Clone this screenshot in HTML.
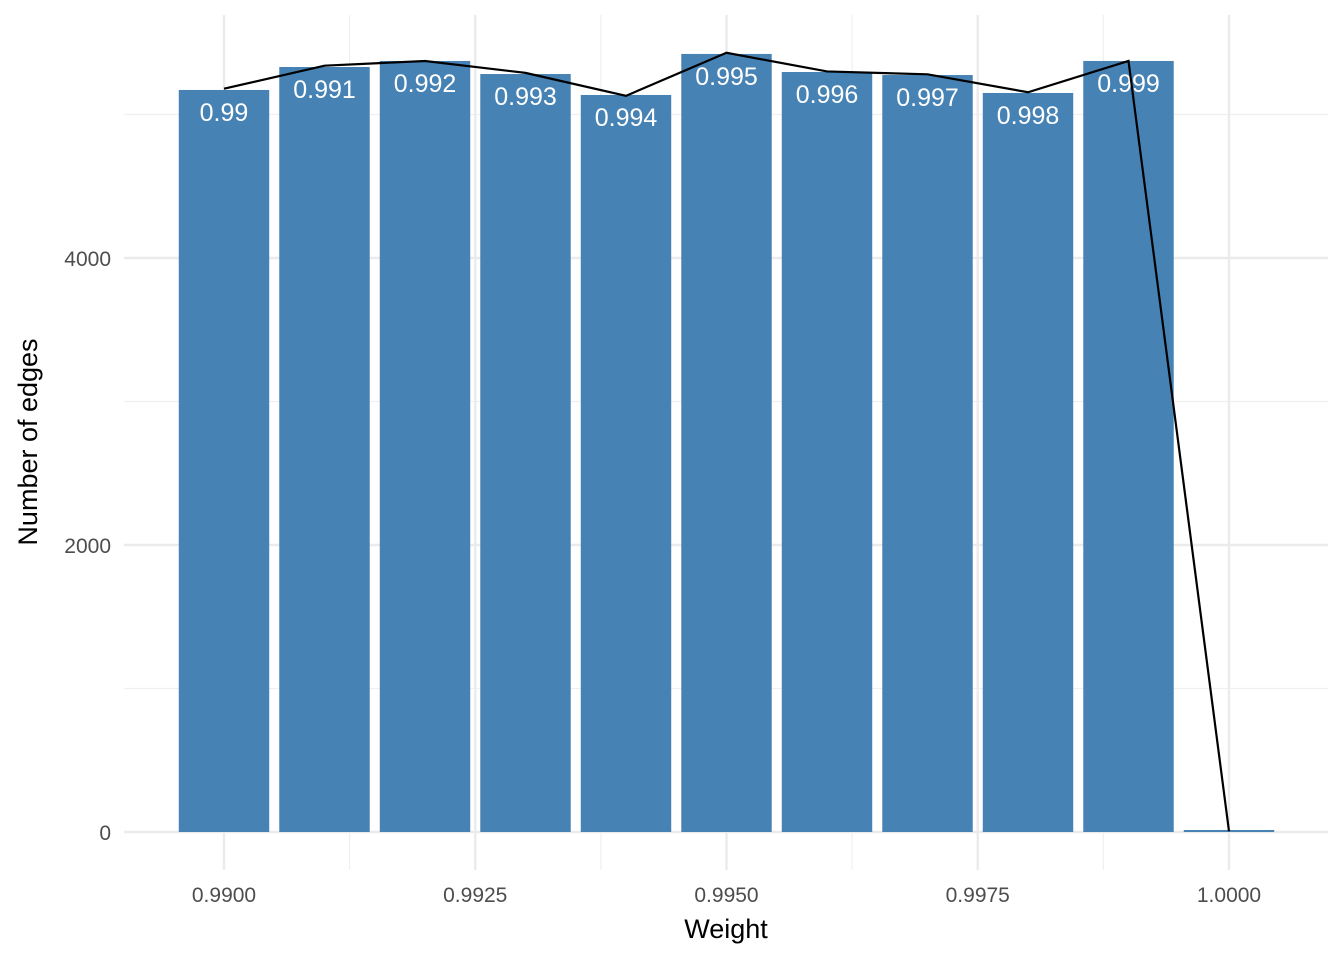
<!DOCTYPE html>
<html><head><meta charset="utf-8"><style>
body{margin:0;background:#fff}
svg{display:block;font-family:"Liberation Sans","DejaVu Sans",sans-serif}
</style></head><body>
<svg id="chart" width="1344" height="960">
<g id="grid"></g>
<g id="bars"></g>
<g id="labels"></g>
<path id="line" fill="none" stroke="#000" stroke-width="2.2"></path>
<g id="axes"></g>
<text x="726" y="938" text-anchor="middle" font-size="27" fill="#000">Weight</text>
<text transform="translate(37,442) rotate(-90)" text-anchor="middle" font-size="27" fill="#000">Number of edges</text>
</svg>
<script>
const categories=[0.990,0.991,0.992,0.993,0.994,0.995,0.996,0.997,0.998,0.999,1.000];
const barLabels=["0.99","0.991","0.992","0.993","0.994","0.995","0.996","0.997","0.998","0.999",""];
const barValues=[5171,5331,5373,5282,5136,5422,5296,5275,5150,5373,14];
const lineValues=[5180,5340,5373,5290,5130,5430,5300,5280,5155,5373,5];
const xTicks=[0.99,0.9925,0.995,0.9975,1.0];
const xTickLabels=["0.9900","0.9925","0.9950","0.9975","1.0000"];
const xMinor=[0.99125,0.99375,0.99625,0.99875];
const yTicks=[0,2000,4000];
const yMinor=[1000,3000,5000];
const NS="http://www.w3.org/2000/svg";
const X=v=>224+(v-0.99)*100500;
const Y=v=>832-v*0.1435;
function mk(tag,attrs,parent,text){const e=document.createElementNS(NS,tag);for(const k in attrs)e.setAttribute(k,attrs[k]);if(text!==undefined)e.textContent=text;parent.appendChild(e);return e;}
const grid=document.getElementById('grid'),bars=document.getElementById('bars'),labels=document.getElementById('labels'),axes=document.getElementById('axes');
yMinor.forEach(v=>{const l=mk('line',{x1:124,x2:1328,y1:Y(v),y2:Y(v),stroke:'#f0f0f0','stroke-width':1.2},grid);

});
xMinor.forEach(v=>{const l=mk('line',{x1:X(v),x2:X(v),y1:15,y2:870,stroke:'#f0f0f0','stroke-width':1.2},grid);

});
yTicks.forEach(v=>{const l=mk('line',{x1:124,x2:1328,y1:Y(v),y2:Y(v),stroke:'#ebebeb','stroke-width':2.4},grid);


const t=mk('text',{x:111,y:Y(v)+8,'text-anchor':'end','font-size':21,fill:'#4d4d4d'},axes,String(v));

});
xTicks.forEach((v,i)=>{const l=mk('line',{x1:X(v),x2:X(v),y1:15,y2:870,stroke:'#ebebeb','stroke-width':2.4},grid);


const t=mk('text',{x:X(v),y:902,'text-anchor':'middle','font-size':21,fill:'#4d4d4d'},axes,xTickLabels[i]);

});
const bw=0.0009*100500;
categories.forEach((c,i)=>{const r=mk('rect',{x:X(c)-bw/2,y:Y(barValues[i]),width:bw,height:Y(0)-Y(barValues[i]),fill:'#4682b4'},bars);


if(barLabels[i]){const t=mk('text',{x:X(c),y:Y(barValues[i])+31,'text-anchor':'middle','font-size':25,fill:'#fff'},labels,barLabels[i]);

}});
document.getElementById('line').setAttribute('d',categories.map((c,i)=>(i?'L':'M')+X(c)+','+Y(lineValues[i])).join(' '));
</script>
</body></html>
